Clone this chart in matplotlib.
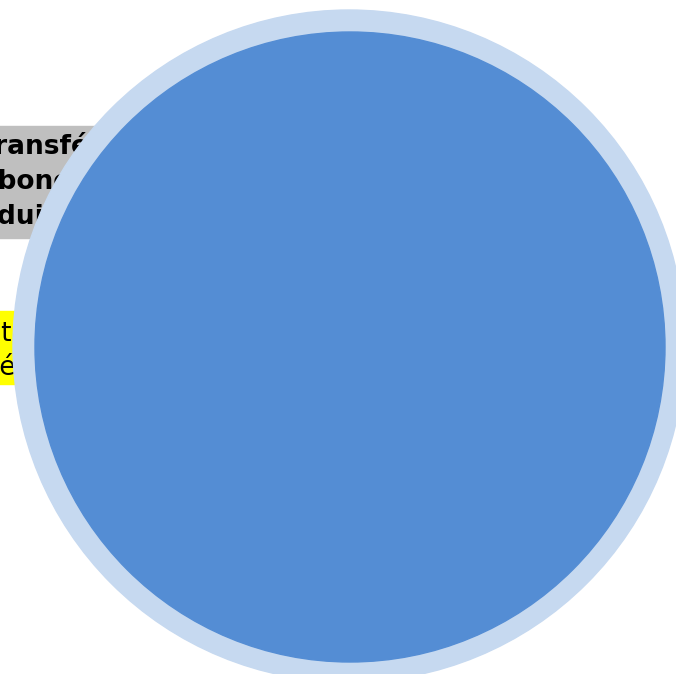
import matplotlib.pyplot as plt
from matplotlib.patches import Circle, Rectangle

# text labels: the part before "|" runs off the left edge, the rest hides behind the disc
gray_lines = ["T|ransféré", "car|bone", "pro|duit"]
yellow_lines = ["Quanti|té", "stock|ée"]

gray_col = "#bfbfbf"
yellow_col = "#ffff00"
ring_col = "#c6d9f0"
disc_col = "#548dd4"

fig = plt.figure(figsize=(6.76, 6.74), dpi=100)
ax = fig.add_axes([0, 0, 1, 1])
ax.set_xlim(0, 676)
ax.set_ylim(674, 0)
ax.set_aspect("equal")
ax.axis("off")
rend = fig.canvas.get_renderer()


def put(line, x0, y, **kw):
    head, tail = line.split("|")
    t = ax.text(0, y, head, va="baseline", ha="left", **kw)
    w = t.get_window_extent(rend).width
    t.remove()
    ax.text(x0 - w, y, head + tail, va="baseline", ha="left", zorder=2, **kw)


# label boxes
ax.add_patch(Rectangle((-10, 126), 150, 112, color=gray_col, zorder=1))
ax.add_patch(Rectangle((-10, 311), 60, 73, color=yellow_col, zorder=1))

for i, s in enumerate(gray_lines):
    put(s, [-2, -2, -2][i], 154 + i * 35, fontsize=19, fontweight="bold")
for i, s in enumerate(yellow_lines):
    put(s, [2, 1][i], 341 + i * 34, fontsize=19)

# the disc with its pale ring
ax.add_patch(Circle((349, 346), 336, color=ring_col, zorder=3))
ax.add_patch(Circle((350, 347), 315, color=disc_col, zorder=4))

fig.savefig("out.png", dpi=100)
